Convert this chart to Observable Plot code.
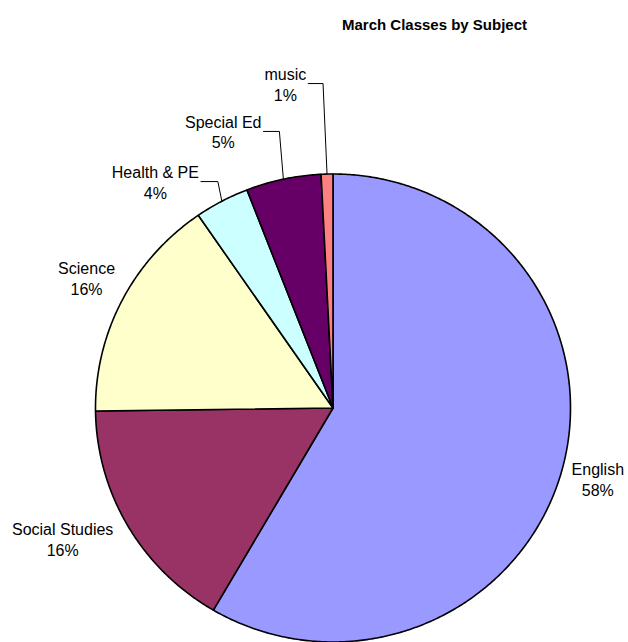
<!DOCTYPE html>
<html><head><meta charset="utf-8">
<script src="https://cdn.jsdelivr.net/npm/d3@7"></script>
<script src="https://cdn.jsdelivr.net/npm/@observablehq/plot@0.6"></script>
<style>body{margin:0;background:#fff}</style>
</head><body><div id="chart"></div>
<script>
// ---- data ----
const title = "March Classes by Subject";
const subjects = ["English", "Social Studies", "Science", "Health & PE", "Special Ed", "music"];
const shares = [58.4, 16.4, 15.6, 3.7, 5.1, 0.8];
const colors = ["#9999FF", "#993366", "#FFFFCC", "#CCFFFF", "#660066", "#FF8080"];

// ---- layout (code-level) ----
const W = 628, H = 642;
const cx = 332.5, cy = 407.5, rx = 237.5, ry = 234;
const FONT = "Arial, 'Liberation Sans', sans-serif";
const LABEL_SIZE = 16;
// label placement: radius factor and angular nudge (deg), leader flag
const placement = {
  "English": {k: 1.155, turn: 0, leader: false},
  "Social Studies": {k: 1.268, turn: 4.1, leader: false},
  "Science": {k: 1.178, turn: 0.9, leader: false},
  "Health & PE": {k: 1.223, turn: -9.8, leader: true},
  "Special Ed": {k: 1.269, turn: -9.3, leader: true},
  "music": {k: 1.401, turn: -6.8, leader: true}
};

const total = d3.sum(shares);
const slices = [];
let acc = 0;
subjects.forEach((s, i) => {
  const a0 = acc / total * 2 * Math.PI;
  acc += shares[i];
  const a1 = acc / total * 2 * Math.PI;
  slices.push({subject: s, value: shares[i], a0, a1, pct: Math.round(shares[i] / total * 100)});
});

const slicePts = [];
for (const sl of slices) {
  slicePts.push({subject: sl.subject, x: 0, y: 0});
  const n = Math.max(2, Math.ceil((sl.a1 - sl.a0) / (Math.PI / 360)));
  for (let j = 0; j <= n; j++) {
    const a = sl.a0 + (sl.a1 - sl.a0) * j / n;
    slicePts.push({subject: sl.subject, x: Math.sin(a), y: Math.cos(a)});
  }
  slicePts.push({subject: sl.subject, x: 0, y: 0});
}

const ctx = document.createElement("canvas").getContext("2d");
ctx.font = LABEL_SIZE + "px " + FONT;

const labels = [];
const leaders = [];
for (const sl of slices) {
  const p = placement[sl.subject];
  const mid = (sl.a0 + sl.a1) / 2;
  const la = mid + p.turn * Math.PI / 180;
  const lx = p.k * Math.sin(la), ly = p.k * Math.cos(la);
  labels.push({subject: sl.subject, x: lx, y: ly, text: sl.subject + "\n" + sl.pct + "%"});
  if (p.leader) {
    const w = Math.max(ctx.measureText(sl.subject).width, ctx.measureText(sl.pct + "%").width);
    const ex = Math.sin(mid), ey = Math.cos(mid);
    const sx = lx + (w / 2 + 2) / rx;
    const bx = ex - 4 / rx;
    leaders.push({subject: sl.subject, x: sx, y: ly});
    leaders.push({subject: sl.subject, x: bx, y: ly});
    leaders.push({subject: sl.subject, x: ex, y: ey});
  }
}

const chart = Plot.plot({
  width: W, height: H,
  margin: 0,
  style: {fontFamily: FONT, background: "#fff", color: "#000"},
  x: {domain: [-1, 1], range: [cx - rx, cx + rx], axis: null},
  y: {domain: [-1, 1], range: [cy + ry, cy - ry], axis: null},
  color: {domain: subjects, range: colors},
  marks: [
    Plot.line(slicePts, {x: "x", y: "y", z: "subject", fill: "subject", stroke: "#000", strokeWidth: 1.6, strokeLinejoin: "round", curve: "linear"}),
    Plot.line(leaders, {x: "x", y: "y", z: "subject", stroke: "#000", strokeWidth: 1, curve: "linear"}),
    Plot.text(labels, {x: "x", y: "y", text: "text", fontSize: LABEL_SIZE, lineHeight: 1.3, fill: "#000"}),
    Plot.text([title], {frameAnchor: "top", dx: 120, dy: 19, text: d => d, fontSize: 15, fontWeight: "bold", fill: "#000"})
  ]
});
document.getElementById("chart").append(chart);
</script>
</body></html>
